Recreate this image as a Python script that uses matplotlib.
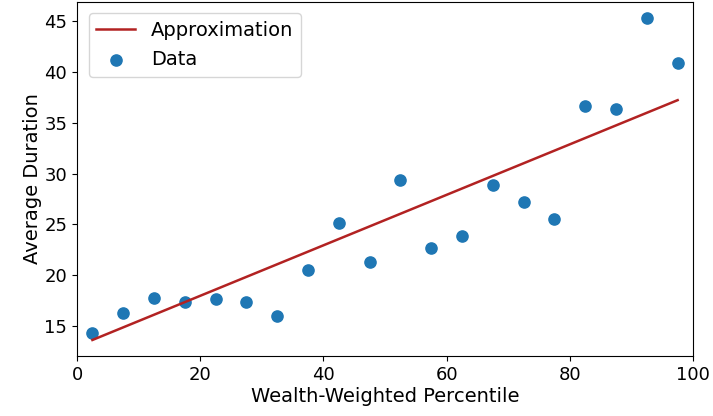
import numpy as np
from matplotlib import pyplot as plt

# percentile bins (midpoints) and average duration per bin
percentile = [2.5, 7.5, 12.5, 17.5, 22.5, 27.5, 32.5, 37.5, 42.5, 47.5,
              52.5, 57.5, 62.5, 67.5, 72.5, 77.5, 82.5, 87.5, 92.5, 97.5]
duration = [14.25, 16.22, 17.76, 17.30, 17.66, 17.33, 15.99, 20.52, 25.15, 21.31,
            29.35, 22.63, 23.87, 28.86, 27.19, 25.54, 36.65, 36.35, 45.35, 40.91]

# straight-line approximation, endpoints
approx_x = [2.5, 97.5]
approx_y = [13.59, 37.23]

plt.rcParams['font.family'] = 'DejaVu Sans'
plt.rcParams['font.size'] = 13
fig = plt.figure(figsize=(7.13, 4.16), dpi=100)
ax = fig.add_axes([0.108, 0.144, 0.864, 0.852])

ax.plot(approx_x, approx_y, color='#b22222', linewidth=1.8, label="Approximation")
ax.scatter(percentile, duration, color='#1f77b4', s=65, label="Data")

ax.set_xlim(0, 100)
ax.tick_params(labelsize=13)
ax.set_xlabel("Wealth-Weighted Percentile", fontsize=14, labelpad=2)
ax.set_ylabel("Average Duration", fontsize=14, labelpad=2)
ax.legend(loc='upper left', fontsize=14, borderaxespad=0.6)

fig.savefig("out.png", dpi=100)
